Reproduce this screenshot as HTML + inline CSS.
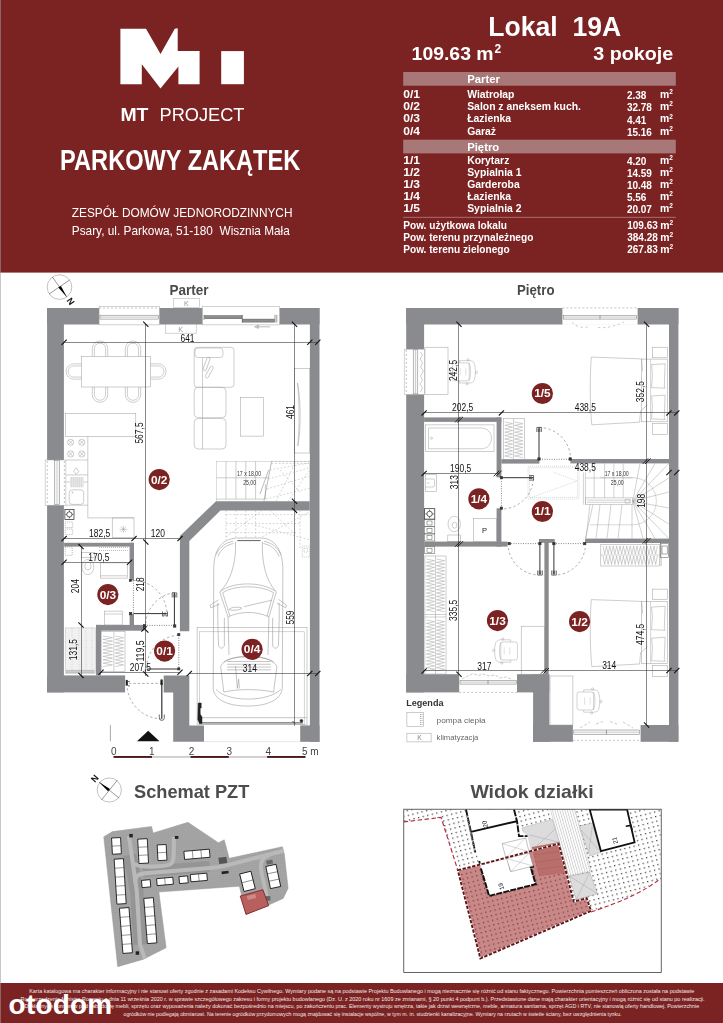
<!DOCTYPE html>
<html><head><meta charset="utf-8"><title>Lokal 19A</title>
<style>html,body{margin:0;padding:0;background:#fff}svg{display:block;opacity:0.999}text{font-family:"Liberation Sans",sans-serif}</style>
</head><body>
<svg width="723" height="1023" viewBox="0 0 723 1023" font-family="Liberation Sans, sans-serif">
<!-- header -->
<rect x="0" y="0" width="723" height="272.6" fill="#7b2323"/>
<g fill="#fff">
<polygon points="120.4,28.7 146,28.7 160.5,54.1 174.8,28.7 177.7,28.2 177.7,51.1 199.6,51.1 199.6,84.2 178.4,84.2 178.4,66.5 160.5,88.4 141.8,64.3 141.8,84.2 120.4,84.2"/>
<rect x="221.2" y="51.1" width="22.7" height="33.1"/>
<text x="120.4" y="120.8" font-size="19" font-weight="bold" textLength="28" lengthAdjust="spacingAndGlyphs">MT</text>
<text x="159.5" y="120.8" font-size="19" textLength="85" lengthAdjust="spacingAndGlyphs">PROJECT</text>
<text x="60.1" y="169.9" font-size="28.6" font-weight="bold" textLength="240.2" lengthAdjust="spacingAndGlyphs">PARKOWY ZAKĄTEK</text>
<text x="71.8" y="217.2" font-size="12.4" textLength="220.7" lengthAdjust="spacingAndGlyphs">ZESPÓŁ DOMÓW JEDNORODZINNYCH</text>
<text x="71.8" y="235.3" font-size="12.4" textLength="218" lengthAdjust="spacingAndGlyphs" xml:space="preserve">Psary, ul. Parkowa, 51-180  Wisznia Mała</text>
</g>

<!-- info table -->
<g fill="#fff" font-weight="bold">
<text x="488.3" y="35.5" font-size="27.2" textLength="132.8" lengthAdjust="spacingAndGlyphs" xml:space="preserve">Lokal  19A</text>
<text x="411.6" y="60" font-size="18" textLength="82" lengthAdjust="spacingAndGlyphs">109.63 m</text>
<text x="494.4" y="53.2" font-size="12">2</text>
<text x="593.3" y="60" font-size="18" textLength="80" lengthAdjust="spacingAndGlyphs">3 pokoje</text>
<rect x="403.2" y="72" width="272.6" height="13.7" fill="#a87878"/>
<rect x="403.2" y="139.7" width="272.6" height="13.7" fill="#a87878"/>
<text x="467.2" y="82.9" font-size="11.3">Parter</text>
<text x="467.2" y="150.8" font-size="11.3">Piętro</text>
<text x="403.2" y="97.9" font-size="10.4" textLength="16.8" lengthAdjust="spacingAndGlyphs">0/1</text><text x="467.2" y="97.9" font-size="10.4">Wiatrołap</text><text x="626.9" y="99.1" font-size="10">2.38</text><text x="660" y="97.9" font-size="10.4">m</text><text x="669.2" y="94.1" font-size="6.5">2</text>
<text x="403.2" y="110.1" font-size="10.4" textLength="16.8" lengthAdjust="spacingAndGlyphs">0/2</text><text x="467.2" y="110.1" font-size="10.4">Salon z aneksem kuch.</text><text x="626.9" y="111.3" font-size="10">32.78</text><text x="660" y="110.1" font-size="10.4">m</text><text x="669.2" y="106.3" font-size="6.5">2</text>
<text x="403.2" y="122.3" font-size="10.4" textLength="16.8" lengthAdjust="spacingAndGlyphs">0/3</text><text x="467.2" y="122.3" font-size="10.4">Łazienka</text><text x="626.9" y="123.5" font-size="10">4.41</text><text x="660" y="122.3" font-size="10.4">m</text><text x="669.2" y="118.5" font-size="6.5">2</text>
<text x="403.2" y="134.5" font-size="10.4" textLength="16.8" lengthAdjust="spacingAndGlyphs">0/4</text><text x="467.2" y="134.5" font-size="10.4">Garaż</text><text x="626.9" y="135.7" font-size="10">15.16</text><text x="660" y="134.5" font-size="10.4">m</text><text x="669.2" y="130.7" font-size="6.5">2</text>
<text x="403.2" y="163.5" font-size="10.4" textLength="16.8" lengthAdjust="spacingAndGlyphs">1/1</text><text x="467.2" y="163.5" font-size="10.4">Korytarz</text><text x="626.9" y="164.7" font-size="10">4.20</text><text x="660" y="163.5" font-size="10.4">m</text><text x="669.2" y="159.7" font-size="6.5">2</text>
<text x="403.2" y="175.5" font-size="10.4" textLength="16.8" lengthAdjust="spacingAndGlyphs">1/2</text><text x="467.2" y="175.5" font-size="10.4">Sypialnia 1</text><text x="626.9" y="176.7" font-size="10">14.59</text><text x="660" y="175.5" font-size="10.4">m</text><text x="669.2" y="171.7" font-size="6.5">2</text>
<text x="403.2" y="187.5" font-size="10.4" textLength="16.8" lengthAdjust="spacingAndGlyphs">1/3</text><text x="467.2" y="187.5" font-size="10.4">Garderoba</text><text x="626.9" y="188.7" font-size="10">10.48</text><text x="660" y="187.5" font-size="10.4">m</text><text x="669.2" y="183.7" font-size="6.5">2</text>
<text x="403.2" y="199.5" font-size="10.4" textLength="16.8" lengthAdjust="spacingAndGlyphs">1/4</text><text x="467.2" y="199.5" font-size="10.4">Łazienka</text><text x="626.9" y="200.7" font-size="10">5.56</text><text x="660" y="199.5" font-size="10.4">m</text><text x="669.2" y="195.7" font-size="6.5">2</text>
<text x="403.2" y="211.5" font-size="10.4" textLength="16.8" lengthAdjust="spacingAndGlyphs">1/5</text><text x="467.2" y="211.5" font-size="10.4">Sypialnia 2</text><text x="626.9" y="212.7" font-size="10">20.07</text><text x="660" y="211.5" font-size="10.4">m</text><text x="669.2" y="207.7" font-size="6.5">2</text>
<rect x="403.2" y="216.9" width="272.6" height="0.6" fill="#c9a0a0"/>
<text x="403.2" y="228.7" font-size="10.15">Pow. użytkowa lokalu</text><text x="627.2" y="229.3" font-size="10.4" textLength="30.6" lengthAdjust="spacingAndGlyphs">109.63</text><text x="660.2" y="228.7" font-size="10.4">m</text><text x="669.4" y="224.9" font-size="6.5">2</text>
<text x="403.2" y="240.8" font-size="10.15">Pow. terenu przynależnego</text><text x="627.2" y="241.4" font-size="10.4" textLength="30.6" lengthAdjust="spacingAndGlyphs">384.28</text><text x="660.2" y="240.8" font-size="10.4">m</text><text x="669.4" y="237.0" font-size="6.5">2</text>
<text x="403.2" y="252.6" font-size="10.15">Pow. terenu zielonego</text><text x="627.2" y="253.2" font-size="10.4" textLength="30.6" lengthAdjust="spacingAndGlyphs">267.83</text><text x="660.2" y="252.6" font-size="10.4">m</text><text x="669.4" y="248.8" font-size="6.5">2</text>
</g>

<!-- PARTER walls -->
<g fill="#8a8b8e">
<rect x="47.1" y="308" width="16.8" height="384.4"/>
<rect x="47.1" y="308" width="272.4" height="16.5"/>
<rect x="309.9" y="308" width="9.6" height="433.8"/>
<rect x="47.1" y="675.4" width="78" height="17"/>
<polygon points="216,501.2 309.8,501.2 309.8,510.4 220.5,510.4 189.3,541 189.3,631.2 179.9,631.2 179.9,536.1"/>
<polygon points="163.7,675.4 189.3,675.4 189.3,725.4 204,725.4 204,741.8 173.2,741.8 173.2,692.4 163.7,692.4"/>
<rect x="300.2" y="725.4" width="19.3" height="16.4"/>
<rect x="64.1" y="542.8" width="69.9" height="3.8"/>
<rect x="129.6" y="542.8" width="4.4" height="37.7"/><rect x="129.6" y="613.9" width="4.4" height="15"/>
<rect x="96" y="624.9" width="48.5" height="5.8"/>
<rect x="96" y="624.9" width="5" height="50.5"/>
</g>
<!-- windows -->
<g fill="#fff" stroke="#a8a8a8" stroke-width="0.5">
<rect x="99.1" y="306.3" width="60.3" height="18.6"/>
<path d="M99.1,308 H159.4" fill="none" stroke-dasharray="2,2" stroke="#b5b5b5" stroke-width="0.8"/>
<rect x="100" y="315.2" width="58.5" height="3.9" fill="#f6f6f6" stroke="#777"/>
<line x1="100" y1="317.1" x2="158.5" y2="317.1" stroke="#aaa"/>
<rect x="202.4" y="306.3" width="77.2" height="18.6"/>
<rect x="204.8" y="315.7" width="37.2" height="3" fill="#8e8e8e" stroke="#555" stroke-width="0.5"/>
<rect x="242.6" y="319.1" width="31.6" height="3" fill="#8e8e8e" stroke="#555" stroke-width="0.5"/>
<path d="M204,314.8 V320 M242.3,314.8 V322.6 M275,314.8 V322.6 M276.8,314.8 V322.6" stroke="#555" stroke-width="0.6" fill="none"/>
<rect x="45.1" y="460" width="20.8" height="45.2"/>
<path d="M47.2,461 V505 M64.4,461 V505" fill="none" stroke-dasharray="2,2" stroke="#b5b5b5" stroke-width="0.8"/>
<rect x="54.3" y="460.6" width="5.4" height="44" fill="#f6f6f6" stroke="#777"/>
<line x1="57" y1="460.6" x2="57" y2="504.6" stroke="#aaa"/>
</g>

<!-- PARTER detail -->
<text x="169.4" y="294.9" font-size="14" font-weight="bold" fill="#4a4a4a" textLength="39" lengthAdjust="spacingAndGlyphs">Parter</text>
<g><circle cx="59.5" cy="287.1" r="12.3" fill="none" stroke="#999" stroke-width="0.6"/><line x1="52.4" y1="277" x2="66.6" y2="296.9" stroke="#333" stroke-width="0.5"/><line x1="49.1" y1="294" x2="69.5" y2="280.1" stroke="#333" stroke-width="0.5"/><polygon points="58.3,287.6 60.9,286 66.9,297.1" fill="#000"/><text transform="translate(70,301.8) rotate(54.5)" font-size="9" font-weight="bold" fill="#111" text-anchor="middle" dominant-baseline="middle">N</text></g>
<path d="M270.1,326.8 H256.5 M258.2,325.2 L254.7,326.8 L258.2,328.4 Z" fill="none" stroke="#777" stroke-width="0.5"/>
<g fill="#fff" stroke="#aaa" stroke-width="0.5"><rect x="173.5" y="298.3" width="26" height="9.4"/><rect x="165.5" y="324.4" width="30.7" height="8.8"/></g>
<g font-size="7.2" fill="#999" text-anchor="middle"><text x="186.5" y="305.8">K</text><text x="180.7" y="331.6">K</text></g>
<g fill="none" stroke="#9c9c9c" stroke-width="0.5">
<rect x="81.5" y="356.4" width="69.2" height="30.6"/>
<g transform="translate(100,348.7) rotate(0)"><path d="M-7.7,7.7 V0 A7.7,7.7 0 0 1 7.7,0 V7.7" /><path d="M-5.6,7.7 V0 A5.6,5.6 0 0 1 5.6,0 V7.7" /></g><g transform="translate(133,348.7) rotate(0)"><path d="M-7.7,7.7 V0 A7.7,7.7 0 0 1 7.7,0 V7.7" /><path d="M-5.6,7.7 V0 A5.6,5.6 0 0 1 5.6,0 V7.7" /></g><g transform="translate(100,394.7) rotate(180)"><path d="M-7.7,7.7 V0 A7.7,7.7 0 0 1 7.7,0 V7.7" /><path d="M-5.6,7.7 V0 A5.6,5.6 0 0 1 5.6,0 V7.7" /></g><g transform="translate(133,394.7) rotate(180)"><path d="M-7.7,7.7 V0 A7.7,7.7 0 0 1 7.7,0 V7.7" /><path d="M-5.6,7.7 V0 A5.6,5.6 0 0 1 5.6,0 V7.7" /></g><g transform="translate(73.8,371.5) rotate(-90)"><path d="M-7.7,7.7 V0 A7.7,7.7 0 0 1 7.7,0 V7.7" /><path d="M-5.6,7.7 V0 A5.6,5.6 0 0 1 5.6,0 V7.7" /></g><g transform="translate(158.4,371.5) rotate(90)"><path d="M-7.7,7.7 V0 A7.7,7.7 0 0 1 7.7,0 V7.7" /><path d="M-5.6,7.7 V0 A5.6,5.6 0 0 1 5.6,0 V7.7" /></g>
<rect x="194.2" y="347.3" width="39.8" height="40" rx="3"/><rect x="195" y="348" width="28" height="9.5" rx="3"/><rect x="194.2" y="387.3" width="31.8" height="30.4" rx="4"/><rect x="194.2" y="418.5" width="31.8" height="30.5" rx="4"/><line x1="202.5" y1="357.5" x2="202.5" y2="449"/><rect x="-1.6" y="-7" width="3.2" height="14" rx="1.6" transform="translate(206.6,364) rotate(20)"/><rect x="-1.6" y="-6.5" width="3.2" height="13" rx="1.6" transform="translate(209.3,372) rotate(28)"/>
<rect x="240.5" y="397.5" width="22.9" height="38.6"/>
<rect x="294.5" y="368.4" width="15.3" height="84.6"/><path d="M297.5,383 C301,400 301,430 297.8,446 C299.5,430 299.5,400 297.5,383 Z"/>
<rect x="65.6" y="413.6" width="70.2" height="22.9"/><path d="M87.8,436.5 V517.9 H134"/><rect x="112.2" y="517.9" width="21.8" height="19.4"/><path d="M65.9,460 H87.8 M65.9,474.9 H87.8 M65.9,482 H87.8 M65.9,505.2 H87.8"/><circle cx="70.6" cy="442.3" r="3.1"/><path d="M68.39999999999999,440.1 l4.4,4.4 M68.39999999999999,444.5 l4.4,-4.4"/><circle cx="70.6" cy="454" r="3.1"/><path d="M68.39999999999999,451.8 l4.4,4.4 M68.39999999999999,456.2 l4.4,-4.4"/><circle cx="81.8" cy="442.3" r="3.1"/><path d="M79.6,440.1 l4.4,4.4 M79.6,444.5 l4.4,-4.4"/><circle cx="81.8" cy="454" r="3.1"/><path d="M79.6,451.8 l4.4,4.4 M79.6,456.2 l4.4,-4.4"/><rect x="70" y="477" width="13.7" height="10.3" fill="#e6e6e6" stroke="none"/><path d="M71.5,477 V487.3 M73.5,477 V487.3 M75.5,477 V487.3 M77.5,477 V487.3 M79.5,477 V487.3 M81.5,477 V487.3" stroke="#d0d0d0"/><rect x="69.2" y="489.8" width="14.5" height="14.6" rx="3"/><circle cx="72.5" cy="492.5" r="0.6"/><path d="M76.2,467.8 l2.6,3.4 l-2.6,3.2 l-2.6,-3.2 z"/><path d="M123.4,525.5 v7.6 M119.6,529.3 h7.6 M120.7,526.6 l5.4,5.4 M120.7,532 l5.4,-5.4"/>
<rect x="216.4" y="461.4" width="93.4" height="39.9" stroke="#aaa" stroke-width="0.4"/><line x1="226" y1="461.4" x2="226" y2="499.1"/><line x1="235.9" y1="461.4" x2="235.9" y2="499.1"/><line x1="245.8" y1="461.4" x2="245.8" y2="499.1"/><line x1="255.6" y1="461.4" x2="255.6" y2="499.1"/><line x1="265.4" y1="484" x2="265.4" y2="499.1"/><line x1="216.4" y1="477.8" x2="268.6" y2="477.8"/><line x1="216.4" y1="499.1" x2="264.4" y2="499.1"/><path d="M271.6,461.4 L264,500.8 M268.6,470 L260,494" stroke="#777"/><g stroke-dasharray="1.8,1.8" stroke="#aaa"><path d="M271.6,461.4 H309.8 M271.6,463.5 H309.8 M270,470 L309,463 M268.5,479 L309,468 M267,489 L309.8,476 M266,499 L309.8,488 M276,501.3 L296,461.5 M288,501.3 L309.8,470 M280,470 L300,492"/><path d="M226,514.6 H309.8 M226,523.5 H300 M226,532.6 H296 M226,510.4 V540 M235.9,510.4 V537 M245.8,510.4 V537 M255.6,510.4 V537 M226,537 L262,510.4 M262,537 L309.8,512 M255,525 L309.8,540 M300,510.4 V548 M270,510.4 L296,535"/></g>
<g stroke-dasharray="1,1" stroke="#999"><rect x="302.3" y="546" width="7" height="11"/><rect x="304" y="548" width="3.5" height="4"/></g>
<rect x="197.1" y="627.7" width="109.9" height="96.8" stroke="#999"/><rect x="199.7" y="631.8" width="104.5" height="92.7" stroke="#aaa"/><path d="M199.7,717.7 H307" stroke="#888"/><path d="M199.7,722.9 H303" stroke="#333" stroke-width="0.9"/><path d="M204,741.6 H300.6" stroke="#ccc"/><path d="M198.2,703 h3 v5 h-1 v6 l1.8,3 v6.5 h-2.6 l-1.6,-4 z" fill="#222" stroke="#222"/><circle cx="301.4" cy="720.8" r="1.4" fill="#222" stroke="#222"/><path d="M292.5,721 l2.5,2.5" stroke="#222" stroke-width="0.8"/>
<g transform="translate(190,525) scale(0.1857)" stroke-width="2.7" stroke="#8a8a8a"><path d="M250,70 C180,75 130,120 128,230 L125,880 C130,940 200,975 310,975 C420,975 490,940 497,880 L500,230 C495,120 450,75 385,70 Z"/><path d="M245,90 C250,200 220,300 165,355 M390,90 C385,200 410,300 460,355"/><path d="M140,160 C160,115 200,92 232,88 M490,160 C470,115 430,92 398,88 M150,170 C165,130 200,105 235,100 M480,170 C465,130 430,105 395,100"/><path d="M255,84 H380" stroke="#555" stroke-width="5"/><path d="M160,360 C230,303 390,303 465,360 M176,364 C240,322 380,322 450,364"/><path d="M205,495 C270,463 360,463 425,495 M160,360 L205,495 M465,360 L425,495 M176,364 L215,490 M450,364 L415,490"/><path d="M152,405 L108,432 L112,446 L160,425 M476,400 L520,432 L515,446 L468,420"/><path d="M205,495 L210,700 M425,495 L420,700 M185,500 V650 M445,500 V650"/><path d="M150,420 C148,500 152,600 154,650 C160,668 178,668 185,650 M480,420 C482,500 478,600 476,650 C470,668 452,668 445,650"/><path d="M210,455 C220,440 270,440 280,448 C270,460 220,462 210,455 Z M290,440 L440,405"/><path d="M165,760 C200,688 430,688 468,760 M180,740 C220,700 410,700 452,740 M165,760 L182,900 M468,760 L450,900 M182,900 C250,882 380,882 450,900 M140,885 C200,955 420,955 490,885"/><path d="M200,735 H435 M200,750 H435 M200,765 H435 M200,780 H435 M245,760 L255,880 L262,830 L266,880" /></g>
<rect x="81.4" y="552.6" width="13" height="5" /><ellipse cx="87.9" cy="567" rx="6" ry="7.6"/><ellipse cx="87.9" cy="566" rx="3.2" ry="4"/><rect x="100.5" y="562.9" width="26.7" height="15.2"/><line x1="100.5" y1="575.8" x2="127.2" y2="575.8"/><path d="M99,547.5 H127.8 M99,550.5 H127.8" stroke-dasharray="1,1" stroke="#777"/><rect x="65.2" y="547" width="7" height="8.4" stroke-dasharray="1,1" stroke="#777"/><rect x="104.6" y="611.1" width="17.6" height="13.9"/><line x1="104.6" y1="614" x2="122.2" y2="614"/><rect x="65.2" y="627.9" width="30.1" height="45.4" fill="#f1f1f1" stroke="#bbb"/><path d="M72,628 V673 M79,628 V673 M86,628 V673 M92,628 V673" stroke-dasharray="0.8,1.6" stroke="#aaa"/><rect x="66.5" y="670.2" width="27.6" height="2.6" fill="#ccc" stroke="#aaa"/><rect x="101.2" y="631.6" width="23.8" height="39.9"/><line x1="113.9" y1="631.6" x2="113.9" y2="671.5"/><path d="M103.0,636.0 L112.5,637.7 L103.0,639.4 L112.5,641.1 L103.0,642.8 L112.5,644.5 L103.0,646.2 L112.5,647.9 L103.0,649.6 L112.5,651.3 L103.0,653.0 L112.5,654.7 L103.0,656.4 L112.5,658.1 L103.0,659.8 L112.5,661.5 L103.0,663.2 L112.5,664.9 L103.0,666.6" stroke="#999" stroke-width="0.45"/><path d="M115.3,636.0 L123.5,637.7 L115.3,639.4 L123.5,641.1 L115.3,642.8 L123.5,644.5 L115.3,646.2 L123.5,647.9 L115.3,649.6 L123.5,651.3 L115.3,653.0 L123.5,654.7 L115.3,656.4 L123.5,658.1 L115.3,659.8 L123.5,661.5 L115.3,663.2 L123.5,664.9 L115.3,666.6" stroke="#999" stroke-width="0.45"/></g>
<g fill="none" stroke="#222" stroke-width="0.7"><rect x="64.9" y="509.5" width="9.1" height="9.9"/><circle cx="69.4" cy="514.4" r="2.6"/><path d="M69.4,510.3 v1.5 M69.4,517 v1.5 M65.6,514.4 h1.2 M72,514.4 h1.2"/></g><g fill="none" stroke="#777" stroke-width="0.5" stroke-dasharray="1,1"><rect x="65.2" y="522" width="7.5" height="5.5"/><rect x="65.2" y="529" width="7.5" height="5.5"/></g>
<g fill="none" stroke="#333" stroke-width="0.6"><line x1="133.4" y1="613.6" x2="166.8" y2="613.6" stroke-width="1"/><path d="M133.4,580.5 V613.9" stroke-dasharray="1,1.4"/><path d="M133.4,580.5 A33.4,33.4 0 0 1 166.8,613.9" stroke-dasharray="2.4,2.4" stroke="#777"/><path d="M162.5,611.5 v4.6 h1.6 v-3 h1.8 v3 h1.6 v-4.6" stroke-width="0.7"/><line x1="174.4" y1="592.6" x2="174.4" y2="626" stroke-width="1"/><path d="M147,625.4 H174" stroke-dasharray="1,1.4"/><path d="M174.4,592.6 A33.4,33.4 0 0 0 145.6,625.4" stroke-dasharray="2.4,2.4" stroke="#777"/><path d="M172.2,597.5 v-4.6 h4.6 v4.6 M173.8,597.5 v-3 h1.4 v3" stroke-width="0.7"/><line x1="147.3" y1="669" x2="178.8" y2="669" stroke-width="1"/><path d="M178.8,635.3 V669" stroke-dasharray="1,1.4"/><path d="M178.8,635.3 A33.4,33.4 0 0 0 146.5,669" stroke-dasharray="2.4,2.4" stroke="#777"/><line x1="161.8" y1="683" x2="161.8" y2="718.8" stroke-width="1.2"/><path d="M129,683.4 H161" stroke-dasharray="2.4,2" stroke="#777"/><path d="M127,683.4 A34.8,34.8 0 0 0 161.8,718.8" stroke-dasharray="2.4,2.4" stroke="#777"/><path d="M159.3,714.5 v3.4 a2.5,2.5 0 0 0 5,0 v-3.4" stroke-width="0.7"/><rect x="126" y="680.2" width="1.6" height="5" fill="#111"/><rect x="160.8" y="679.8" width="1.6" height="5" fill="#111"/><path d="M130,681.5 a2.3,2.3 0 1 0 0,4.4" stroke-width="0.7"/><rect x="129.4" y="579.5" width="2" height="2" fill="#333"/><rect x="129.4" y="612.4" width="2.4" height="2.4" fill="#333"/><rect x="143.4" y="624.6" width="2.4" height="2.4" fill="#333"/><rect x="173.5" y="624.8" width="2.4" height="2.4" fill="#333"/><rect x="177.7" y="633.5" width="2.2" height="2.2" fill="#333"/><rect x="177.7" y="667.8" width="2.2" height="2.2" fill="#333"/></g>
<g stroke="#3a3a3a" stroke-width="0.6" fill="none"><line x1="64.1" y1="342.5" x2="318" y2="342.5"/><line x1="145.5" y1="324.3" x2="145.5" y2="676"/><line x1="294.5" y1="324.3" x2="294.5" y2="725.8"/><line x1="64.1" y1="538.5" x2="180" y2="538.5"/><line x1="64.1" y1="562.5" x2="129.6" y2="562.5"/><line x1="81.5" y1="546.6" x2="81.5" y2="675.4"/><line x1="101" y1="672.5" x2="180" y2="672.5"/><line x1="189.3" y1="673.5" x2="318" y2="673.5"/></g>
<line x1="61.5" y1="344.9" x2="66.7" y2="339.7" stroke="#111" stroke-width="1.1"/><line x1="307.2" y1="344.9" x2="312.4" y2="339.7" stroke="#111" stroke-width="1.1"/><line x1="315.2" y1="344.9" x2="320.4" y2="339.7" stroke="#111" stroke-width="1.1"/><line x1="61.5" y1="541.2" x2="66.7" y2="536.0" stroke="#111" stroke-width="1.1"/><line x1="131.4" y1="541.2" x2="136.6" y2="536.0" stroke="#111" stroke-width="1.1"/><line x1="177.4" y1="541.2" x2="182.6" y2="536.0" stroke="#111" stroke-width="1.1"/><line x1="61.5" y1="564.8" x2="66.7" y2="559.6" stroke="#111" stroke-width="1.1"/><line x1="127.0" y1="564.8" x2="132.2" y2="559.6" stroke="#111" stroke-width="1.1"/><line x1="98.4" y1="674.8" x2="103.6" y2="669.6" stroke="#111" stroke-width="1.1"/><line x1="177.4" y1="674.8" x2="182.6" y2="669.6" stroke="#111" stroke-width="1.1"/><line x1="186.7" y1="676.1" x2="191.9" y2="670.9" stroke="#111" stroke-width="1.1"/><line x1="307.2" y1="676.1" x2="312.4" y2="670.9" stroke="#111" stroke-width="1.1"/><line x1="315.2" y1="676.1" x2="320.4" y2="670.9" stroke="#111" stroke-width="1.1"/><line x1="143.2" y1="321.7" x2="148.4" y2="326.9" stroke="#111" stroke-width="1.1"/><line x1="143.2" y1="539.4" x2="148.4" y2="544.6" stroke="#111" stroke-width="1.1"/><line x1="143.2" y1="627.4" x2="148.4" y2="632.6" stroke="#111" stroke-width="1.1"/><line x1="143.2" y1="671.4" x2="148.4" y2="676.6" stroke="#111" stroke-width="1.1"/><line x1="291.9" y1="321.7" x2="297.1" y2="326.9" stroke="#111" stroke-width="1.1"/><line x1="291.9" y1="498.6" x2="297.1" y2="503.8" stroke="#111" stroke-width="1.1"/><line x1="291.9" y1="507.8" x2="297.1" y2="513.0" stroke="#111" stroke-width="1.1"/><line x1="78.4" y1="544.0" x2="83.6" y2="549.2" stroke="#111" stroke-width="1.1"/><line x1="78.4" y1="622.4" x2="83.6" y2="627.6" stroke="#111" stroke-width="1.1"/><line x1="78.4" y1="672.8" x2="83.6" y2="678.0" stroke="#111" stroke-width="1.1"/><line x1="141.4" y1="631.6" x2="146.6" y2="626.4" stroke="#111" stroke-width="1.1"/>
<text x="187.5" y="341.8" font-size="10.4" text-anchor="middle" fill="#111" textLength="14.1" lengthAdjust="spacingAndGlyphs">641</text><text x="99.6" y="536.6" font-size="10.4" text-anchor="middle" fill="#111" textLength="21.2" lengthAdjust="spacingAndGlyphs">182,5</text><text x="157.8" y="536.8" font-size="10.4" text-anchor="middle" fill="#111" textLength="14.1" lengthAdjust="spacingAndGlyphs">120</text><text x="98.8" y="560.6" font-size="10.4" text-anchor="middle" fill="#111" textLength="21.2" lengthAdjust="spacingAndGlyphs">170,5</text><text x="140.4" y="670.8" font-size="10.4" text-anchor="middle" fill="#111" textLength="21.2" lengthAdjust="spacingAndGlyphs">207,5</text><text x="249.8" y="671.8" font-size="10.4" text-anchor="middle" fill="#111" textLength="14.1" lengthAdjust="spacingAndGlyphs">314</text><text transform="translate(143,433) rotate(-90)" font-size="10.4" text-anchor="middle" fill="#111" textLength="21.2" lengthAdjust="spacingAndGlyphs">567,5</text><text transform="translate(294.1,412) rotate(-90)" font-size="10.4" text-anchor="middle" fill="#111" textLength="14.1" lengthAdjust="spacingAndGlyphs">461</text><text transform="translate(293.8,617.5) rotate(-90)" font-size="10.4" text-anchor="middle" fill="#111" textLength="14.1" lengthAdjust="spacingAndGlyphs">559</text><text transform="translate(78.6,586.2) rotate(-90)" font-size="10.4" text-anchor="middle" fill="#111" textLength="14.1" lengthAdjust="spacingAndGlyphs">204</text><text transform="translate(144.2,584.3) rotate(-90)" font-size="10.4" text-anchor="middle" fill="#111" textLength="14.1" lengthAdjust="spacingAndGlyphs">218</text><text transform="translate(77.3,649.6) rotate(-90)" font-size="10.4" text-anchor="middle" fill="#111" textLength="21.2" lengthAdjust="spacingAndGlyphs">131,5</text><text transform="translate(143.8,651) rotate(-90)" font-size="10.4" text-anchor="middle" fill="#111" textLength="21.2" lengthAdjust="spacingAndGlyphs">119,5</text>
<g font-size="7" fill="#333" text-anchor="middle"><text x="249" y="476" textLength="24" lengthAdjust="spacingAndGlyphs">17 x 18,00</text><text x="249.6" y="485.4" textLength="12.8" lengthAdjust="spacingAndGlyphs">25,00</text></g>
<circle cx="159.2" cy="479.6" r="10.6" fill="#7b2323"/><text x="159.2" y="483.5" font-size="11" font-weight="bold" fill="#fff" text-anchor="middle" textLength="16.5" lengthAdjust="spacingAndGlyphs">0/2</text><circle cx="107.9" cy="594.6" r="10.6" fill="#7b2323"/><text x="107.9" y="598.5" font-size="11" font-weight="bold" fill="#fff" text-anchor="middle" textLength="16.5" lengthAdjust="spacingAndGlyphs">0/3</text><circle cx="164.6" cy="651.1" r="10.6" fill="#7b2323"/><text x="164.6" y="655.0" font-size="11" font-weight="bold" fill="#fff" text-anchor="middle" textLength="16.5" lengthAdjust="spacingAndGlyphs">0/1</text><circle cx="252.1" cy="649.3" r="10.6" fill="#7b2323"/><text x="252.1" y="653.1999999999999" font-size="11" font-weight="bold" fill="#fff" text-anchor="middle" textLength="16.5" lengthAdjust="spacingAndGlyphs">0/4</text>
<polygon points="137,741.2 159.5,741.2 148.2,730.7" fill="#111"/><line x1="110.4" y1="725" x2="110.4" y2="741.2" stroke="#555" stroke-width="0.5"/>
<g font-size="10" fill="#444" text-anchor="middle"><text x="113.9" y="754.6">0</text><text x="151.8" y="754.6">1</text><text x="191.6" y="754.6">2</text><text x="229.4" y="754.6">3</text><text x="268.2" y="754.6">4</text><text x="310.3" y="754.6" textLength="16.5" lengthAdjust="spacing">5 m</text></g><g><rect x="113.5" y="756" width="38.6" height="1.9" fill="#4a1718"/><rect x="152.1" y="756" width="38.4" height="1.9" fill="#cfcfcf"/><rect x="190.5" y="756" width="38.4" height="1.9" fill="#4a1718"/><rect x="228.9" y="756" width="38.2" height="1.9" fill="#cfcfcf"/><rect x="267.1" y="756" width="38.4" height="1.9" fill="#4a1718"/></g>

<!-- PIETRO walls -->
<g fill="#8a8b8e">
<rect x="406.2" y="308" width="17.9" height="384.4"/>
<rect x="406.2" y="308" width="272.2" height="16.5"/>
<rect x="669" y="308" width="9.4" height="433.8"/>
<rect x="406.2" y="674.2" width="143.1" height="18.2"/>
<rect x="533.1" y="674.2" width="16.2" height="67.6"/>
<rect x="533.1" y="725" width="145.3" height="16.8"/>
<rect x="424.1" y="417.4" width="77.3" height="4.5"/>
<rect x="496.6" y="417.4" width="4.8" height="60"/>
<rect x="496.6" y="508.3" width="4.8" height="38.3"/>
<rect x="501.4" y="459.2" width="38" height="4.4"/>
<rect x="424.1" y="541.6" width="83.4" height="5"/>
<rect x="570.4" y="459" width="98.8" height="4.4"/>
<rect x="585.1" y="538.6" width="84" height="4.4"/>
<rect x="544.4" y="539" width="4.3" height="135.2"/>
<rect x="539" y="539" width="15.7" height="3.8"/>
</g>
<!-- windows -->
<g fill="#fff" stroke="#a8a8a8" stroke-width="0.5">
<rect x="562.4" y="306.3" width="75.2" height="18.6" stroke="none"/>
<path d="M562.4,307.9 H637.6" fill="none" stroke-dasharray="2,2" stroke="#b5b5b5" stroke-width="0.8"/>
<rect x="563.3" y="315.4" width="73.4" height="3.7" fill="#f6f6f6" stroke="#777"/>
<line x1="563.3" y1="317.2" x2="636.7" y2="317.2" stroke="#aaa"/><line x1="600" y1="315.4" x2="600" y2="319.1" stroke="#555"/>
<path d="M572,322 C576,327 583,328.5 590,326.5 M598,327.5 C606,328.5 616,326 624,322" fill="none" stroke-dasharray="2.5,2.5" stroke="#999"/>
<rect x="404.2" y="349.2" width="20.6" height="45.3"/>
<path d="M406.3,350 V394" fill="none" stroke-dasharray="2,2" stroke="#b5b5b5" stroke-width="0.8"/>
<rect x="413.2" y="349.8" width="4.6" height="44.1" fill="#f6f6f6" stroke="#777"/>
<line x1="415.5" y1="349.8" x2="415.5" y2="393.9" stroke="#aaa"/>
<path d="M420.5,352 l2,3 -2.5,4 2.5,4 -2,4 3,4 -3,5 2,4 -2.5,4 2.5,4 -2,4" fill="none" stroke="#999"/>
<rect x="459.2" y="671.7" width="57.8" height="22.4" stroke="none"/>
<path d="M459.2,692.4 H517" fill="none" stroke-dasharray="2,2" stroke="#b5b5b5" stroke-width="0.8"/>
<rect x="460" y="680.3" width="56.2" height="3.8" fill="#f6f6f6" stroke="#777"/><line x1="460" y1="682.2" x2="516.2" y2="682.2" stroke="#aaa"/><line x1="488" y1="680.3" x2="488" y2="684.1" stroke="#555"/>
<path d="M462,679 l5,-2.5 6,-3 5,2 5,-1.5 6,2 6,-1 5,3 6,-1 6,2.5" fill="none" stroke="#999" stroke-dasharray="3,1.5"/>
<rect x="572.9" y="724" width="67.7" height="18" stroke="none"/>
<path d="M572.9,740.3 H640.6" fill="none" stroke-dasharray="2,2" stroke="#b5b5b5" stroke-width="0.8"/>
<rect x="573.8" y="730" width="65.9" height="4.4" fill="#f6f6f6" stroke="#777"/><line x1="573.8" y1="732.2" x2="639.7" y2="732.2" stroke="#aaa"/><line x1="606.5" y1="730" x2="606.5" y2="734.4" stroke="#555"/>
<path d="M580,728 L590,722 M596,724 L603,721.5 M610,721.5 L617,724 M623,722 L633,728" fill="none" stroke="#999" stroke-dasharray="3,2"/>
</g>

<!-- PIETRO detail -->
<text x="517" y="294.9" font-size="14" font-weight="bold" fill="#4a4a4a" textLength="37.5" lengthAdjust="spacingAndGlyphs">Piętro</text>
<g fill="none" stroke="#9c9c9c" stroke-width="0.5">
<rect x="424.9" y="347.2" width="23.1" height="47.3"/><g transform="translate(464.8,371.8) rotate(0)" stroke="#a6a6a6"><rect x="-12.2" y="-9" width="16.6" height="18" rx="2.2"/><path d="M-5.5,-9 V-11.2 H4.4 M-5.5,9 V11.2 H4.4"/><path d="M4.4,-11.2 C7.5,-11.2 9,-10 9.6,-8 C11,-3 11,3 9.6,8 C9,10 7.5,11.2 4.4,11.2"/><path d="M4.4,-9 C6.2,-4 6.2,4 4.4,9"/><path d="M-4.6,-3.6 V3.6 M1,-3.6 V3.6" stroke="#c0c0c0"/><circle cx="11.6" cy="0.6" r="1.15"/><circle cx="3.4" cy="-12" r="1.1"/><circle cx="2.4" cy="12" r="1.1"/></g>
<rect x="652.3" y="347.2" width="15.2" height="10.6"/><rect x="652.3" y="423.4" width="15.2" height="11.2"/><path d="M591.3,357.1 C589.8,377.41 589.8,404.49 591.8,424.8 L639.6,422.2 L640.6,410.8 L647.6,404.8 M591.3,357.1 L641.6,358.90000000000003 L642.6,371.1"/><rect x="641.6" y="359.1" width="25.899999999999977" height="62.69999999999999"/><path d="M651.6,364.6 l13.5,-0.8 l-0.8,22.349999999999994 l0.8,2 l-13.5,-0.6 l0.8,-12.7 Z"/><path d="M651.6,395.95000000000005 l13.5,-0.8 l-0.8,22.349999999999994 l0.8,2 l-13.5,-0.6 l0.8,-12.7 Z"/><path d="M650.6,359.1 V421.8" stroke="#aaa"/>
<rect x="425.6" y="424.9" width="68.4" height="26.8"/><path d="M428.5,428 H481 C495,428 495,448.8 481,448.8 H428.5 Z"/><circle cx="431.5" cy="438.3" r="1"/><rect x="425.6" y="474.6" width="11" height="17"/><path d="M425.6,479 h7.5 a1.5,1.5 0 0 1 1.5,1.5 v5 a1.5,1.5 0 0 1 -1.5,1.5 h-7.5"/><path d="M427,483 h2.5"/><rect x="447.5" y="541.3" width="13" height="0.3"/><ellipse cx="454.2" cy="524" rx="6.2" ry="7.8"/><ellipse cx="454.6" cy="525.2" rx="2.4" ry="3"/><rect x="447.8" y="535" width="12.8" height="6.3"/><rect x="473.4" y="518.7" width="23.1" height="22.6"/><rect x="503.3" y="418.6" width="21.1" height="41"/><line x1="513.6" y1="418.6" x2="513.6" y2="459.4"/><path d="M504.8,422.0 L512.6,423.7 L504.8,425.4 L512.6,427.1 L504.8,428.8 L512.6,430.5 L504.8,432.2 L512.6,433.9 L504.8,435.6 L512.6,437.3 L504.8,439.0 L512.6,440.7 L504.8,442.4 L512.6,444.1 L504.8,445.8 L512.6,447.5 L504.8,449.2 L512.6,450.9 L504.8,452.6 L512.6,454.3 L504.8,456.0 L512.6,457.7" stroke="#999" stroke-width="0.45"/><path d="M514.6,422.0 L522.8,423.7 L514.6,425.4 L522.8,427.1 L514.6,428.8 L522.8,430.5 L514.6,432.2 L522.8,433.9 L514.6,435.6 L522.8,437.3 L514.6,439.0 L522.8,440.7 L514.6,442.4 L522.8,444.1 L514.6,445.8 L522.8,447.5 L514.6,449.2 L522.8,450.9 L514.6,452.6 L522.8,454.3 L514.6,456.0 L522.8,457.7" stroke="#999" stroke-width="0.45"/><rect x="424.9" y="556" width="21.1" height="118"/><line x1="435.5" y1="556" x2="435.5" y2="674"/><line x1="424.9" y1="614.5" x2="446" y2="614.5"/><line x1="424.9" y1="617" x2="446" y2="617"/><path d="M426.4,559.0 L434.5,560.7 L426.4,562.4 L434.5,564.1 L426.4,565.8 L434.5,567.5 L426.4,569.2 L434.5,570.9 L426.4,572.6 L434.5,574.3 L426.4,576.0 L434.5,577.7 L426.4,579.4 L434.5,581.1 L426.4,582.8 L434.5,584.5 L426.4,586.2 L434.5,587.9 L426.4,589.6 L434.5,591.3 L426.4,593.0 L434.5,594.7 L426.4,596.4 L434.5,598.1 L426.4,599.8 L434.5,601.5 L426.4,603.2 L434.5,604.9 L426.4,606.6 L434.5,608.3 L426.4,610.0 L434.5,611.7" stroke="#999" stroke-width="0.45"/><path d="M436.5,559.0 L444.6,560.7 L436.5,562.4 L444.6,564.1 L436.5,565.8 L444.6,567.5 L436.5,569.2 L444.6,570.9 L436.5,572.6 L444.6,574.3 L436.5,576.0 L444.6,577.7 L436.5,579.4 L444.6,581.1 L436.5,582.8 L444.6,584.5 L436.5,586.2 L444.6,587.9 L436.5,589.6 L444.6,591.3 L436.5,593.0 L444.6,594.7 L436.5,596.4 L444.6,598.1 L436.5,599.8 L444.6,601.5 L436.5,603.2 L444.6,604.9 L436.5,606.6 L444.6,608.3 L436.5,610.0 L444.6,611.7" stroke="#999" stroke-width="0.45"/><path d="M426.4,620.0 L434.5,621.7 L426.4,623.4 L434.5,625.1 L426.4,626.8 L434.5,628.5 L426.4,630.2 L434.5,631.9 L426.4,633.6 L434.5,635.3 L426.4,637.0 L434.5,638.7 L426.4,640.4 L434.5,642.1 L426.4,643.8 L434.5,645.5 L426.4,647.2 L434.5,648.9 L426.4,650.6 L434.5,652.3 L426.4,654.0 L434.5,655.7 L426.4,657.4 L434.5,659.1 L426.4,660.8 L434.5,662.5 L426.4,664.2 L434.5,665.9 L426.4,667.6 L434.5,669.3 L426.4,671.0" stroke="#999" stroke-width="0.45"/><path d="M436.5,620.0 L444.6,621.7 L436.5,623.4 L444.6,625.1 L436.5,626.8 L444.6,628.5 L436.5,630.2 L444.6,631.9 L436.5,633.6 L444.6,635.3 L436.5,637.0 L444.6,638.7 L436.5,640.4 L444.6,642.1 L436.5,643.8 L444.6,645.5 L436.5,647.2 L444.6,648.9 L436.5,650.6 L444.6,652.3 L436.5,654.0 L444.6,655.7 L436.5,657.4 L444.6,659.1 L436.5,660.8 L444.6,662.5 L436.5,664.2 L444.6,665.9 L436.5,667.6 L444.6,669.3 L436.5,671.0" stroke="#999" stroke-width="0.45"/><rect x="600.8" y="544.3" width="58.7" height="21.7"/><line x1="600.8" y1="555" x2="659.5" y2="555"/><path d="M603.0,546.0 L604.7,554.0 L606.4,546.0 L608.1,554.0 L609.8,546.0 L611.5,554.0 L613.2,546.0 L614.9,554.0 L616.6,546.0 L618.3,554.0 L620.0,546.0 L621.7,554.0 L623.4,546.0 L625.1,554.0 L626.8,546.0 L628.5,554.0 L630.2,546.0 L631.9,554.0 L633.6,546.0 L635.3,554.0 L637.0,546.0 L638.7,554.0 L640.4,546.0 L642.1,554.0 L643.8,546.0 L645.5,554.0 L647.2,546.0 L648.9,554.0 L650.6,546.0 L652.3,554.0 L654.0,546.0 L655.7,554.0 L657.4,546.0" stroke="#999" stroke-width="0.45"/><path d="M603.0,556.0 L604.7,564.5 L606.4,556.0 L608.1,564.5 L609.8,556.0 L611.5,564.5 L613.2,556.0 L614.9,564.5 L616.6,556.0 L618.3,564.5 L620.0,556.0 L621.7,564.5 L623.4,556.0 L625.1,564.5 L626.8,556.0 L628.5,564.5 L630.2,556.0 L631.9,564.5 L633.6,556.0 L635.3,564.5 L637.0,556.0 L638.7,564.5 L640.4,556.0 L642.1,564.5 L643.8,556.0 L645.5,564.5 L647.2,556.0 L648.9,564.5 L650.6,556.0 L652.3,564.5 L654.0,556.0 L655.7,564.5 L657.4,556.0" stroke="#999" stroke-width="0.45"/><line x1="661" y1="544" x2="661" y2="566" stroke="#777"/><rect x="521.2" y="626.2" width="23.1" height="48"/><g transform="translate(505.2,651) rotate(180)" stroke="#a6a6a6"><rect x="-12.2" y="-9" width="16.6" height="18" rx="2.2"/><path d="M-5.5,-9 V-11.2 H4.4 M-5.5,9 V11.2 H4.4"/><path d="M4.4,-11.2 C7.5,-11.2 9,-10 9.6,-8 C11,-3 11,3 9.6,8 C9,10 7.5,11.2 4.4,11.2"/><path d="M4.4,-9 C6.2,-4 6.2,4 4.4,9"/><path d="M-4.6,-3.6 V3.6 M1,-3.6 V3.6" stroke="#c0c0c0"/><circle cx="11.6" cy="0.6" r="1.15"/><circle cx="3.4" cy="-12" r="1.1"/><circle cx="2.4" cy="12" r="1.1"/></g><rect x="652.3" y="589.1" width="15.2" height="10.6"/><rect x="652.3" y="665.3" width="15.2" height="11.4"/><path d="M591.3,599.6 C589.8,619.7 589.8,646.5 591.8,666.6 L639.6,664.0 L640.6,652.6 L647.6,646.6 M591.3,599.6 L641.6,601.4 L642.6,613.6"/><rect x="641.6" y="601.6" width="25.899999999999977" height="62.0"/><path d="M651.6,607.1 l13.5,-0.8 l-0.8,22.0 l0.8,2 l-13.5,-0.6 l0.8,-12.5 Z"/><path d="M651.6,638.1 l13.5,-0.8 l-0.8,22.0 l0.8,2 l-13.5,-0.6 l0.8,-12.5 Z"/><path d="M650.6,601.6 V663.6" stroke="#aaa"/><rect x="550" y="676" width="22.9" height="49"/><g transform="translate(589.2,701) rotate(0)" stroke="#a6a6a6"><rect x="-12.2" y="-9" width="16.6" height="18" rx="2.2"/><path d="M-5.5,-9 V-11.2 H4.4 M-5.5,9 V11.2 H4.4"/><path d="M4.4,-11.2 C7.5,-11.2 9,-10 9.6,-8 C11,-3 11,3 9.6,8 C9,10 7.5,11.2 4.4,11.2"/><path d="M4.4,-9 C6.2,-4 6.2,4 4.4,9"/><path d="M-4.6,-3.6 V3.6 M1,-3.6 V3.6" stroke="#c0c0c0"/><circle cx="11.6" cy="0.6" r="1.15"/><circle cx="3.4" cy="-12" r="1.1"/><circle cx="2.4" cy="12" r="1.1"/></g>
<g stroke="#9a9a9a" stroke-width="0.45"><path d="M583.4,472.4 V504.7 M585.4,472.4 V504.7"/><rect x="585.4" y="497.9" width="47.4" height="6.5"/><path d="M587,500.1 H631 M587,502.3 H631 M625,499.3 h5 v3.8 h-5 z"/><line x1="594.2" y1="463.4" x2="594.2" y2="497.9"/><line x1="604.6" y1="463.4" x2="604.6" y2="497.9"/><line x1="613.9" y1="463.4" x2="613.9" y2="497.9"/><line x1="623.2" y1="463.4" x2="623.2" y2="497.9"/><line x1="585.4" y1="478" x2="633" y2="478"/><line x1="632.8" y1="501.2" x2="640" y2="463.4"/><line x1="632.8" y1="501.2" x2="655" y2="463.4"/><line x1="632.8" y1="501.2" x2="668.8" y2="463.4"/><line x1="632.8" y1="501.2" x2="668.8" y2="478"/><line x1="632.8" y1="501.2" x2="668.8" y2="492"/><line x1="632.8" y1="501.2" x2="668.8" y2="508"/><line x1="632.8" y1="501.2" x2="668.8" y2="524"/><line x1="632.8" y1="501.2" x2="668.8" y2="538.5"/><line x1="632.8" y1="501.2" x2="655" y2="538.5"/><line x1="632.8" y1="501.2" x2="643" y2="538.5"/><line x1="632" y1="504.4" x2="632" y2="538.5"/><line x1="622" y1="504.4" x2="618" y2="538.5"/><line x1="611" y1="504.4" x2="607" y2="538.5"/><line x1="600" y1="504.4" x2="596" y2="538.5"/><line x1="590" y1="504.4" x2="586" y2="538.5"/><path d="M585.4,538.5 L593,504.4"/><path d="M600,477.6 H632.8 A23.6,23.6 0 0 1 632.8,524.8 H590" stroke="#aaa"/></g>
<g stroke="#b5b5b5" stroke-dasharray="1,1"><rect x="528" y="466.3" width="51" height="32.7"/><rect x="529.5" y="467.8" width="48" height="29.7"/><path d="M530,498 L577,481 L553,472"/></g>
</g>
<g fill="none" stroke="#222" stroke-width="0.7"><rect x="424.5" y="508.7" width="10.3" height="10.4"/><circle cx="429.6" cy="513.9" r="2.7"/><path d="M429.6,509.6 v1.6 M429.6,516.6 v1.6 M425.4,513.9 h1.4 M432.4,513.9 h1.4"/></g><g fill="none" stroke="#555" stroke-width="0.5"><rect x="424.5" y="519.5" width="10.3" height="7"/><rect x="424.5" y="526.8" width="10.3" height="7"/><rect x="424.5" y="534" width="10.3" height="7"/><rect x="424.5" y="546.8" width="10.3" height="6.7"/><rect x="427" y="521" width="5" height="4"/><rect x="427" y="528.3" width="5" height="4"/><rect x="427" y="535.6" width="5" height="4"/><rect x="427" y="548.2" width="5" height="4"/><rect x="660.5" y="543.6" width="8.2" height="13.7"/><rect x="662" y="546" width="5.2" height="8"/></g>
<text x="484.6" y="532.6" font-size="7.5" fill="#222" text-anchor="middle">P</text>
<g fill="none" stroke="#333" stroke-width="0.6"><line x1="539" y1="427.5" x2="539" y2="459" stroke-width="1"/><path d="M542,459.3 H569" stroke-dasharray="1,1.4"/><path d="M539,427.5 A31.5,31.5 0 0 1 570.5,459" stroke-dasharray="2.4,2.4" stroke="#777"/><path d="M536.8,432 v-4.6 h4.6 v4.6 M538.3,432 v-3 h1.5 v3" stroke-width="0.7"/><line x1="501.4" y1="477.7" x2="533.4" y2="477.7" stroke-width="1"/><path d="M501.4,481 V507" stroke-dasharray="1,1.4"/><path d="M533.4,479 A32,32 0 0 1 502.5,509" stroke-dasharray="2.4,2.4" stroke="#777"/><path d="M529,475.5 h4.6 v4.6 h-4.6 M529,477 h3 v1.5 h-3" stroke-width="0.7"/><line x1="539.9" y1="543.6" x2="539.9" y2="574.8" stroke-width="1"/><path d="M511,543.6 H538" stroke-dasharray="1,1.4"/><path d="M508.4,548 A31.2,31.2 0 0 0 538,575" stroke-dasharray="2.4,2.4" stroke="#777"/><path d="M537.7,570.5 v4.6 h4.6 v-4.6 M539.2,570.5 v3 h1.5 v-3" stroke-width="0.7"/><line x1="553.9" y1="543.6" x2="553.9" y2="574.8" stroke-width="1"/><path d="M556,543.6 H583" stroke-dasharray="1,1.4"/><path d="M585.2,548 A31.2,31.2 0 0 1 556,575" stroke-dasharray="2.4,2.4" stroke="#777"/><path d="M551.7,570.5 v4.6 h4.6 v-4.6 M553.2,570.5 v3 h1.5 v-3" stroke-width="0.7"/><rect x="537.8" y="457.8" width="2.4" height="2.4" fill="#333"/><rect x="569" y="457.8" width="2.4" height="2.4" fill="#333"/><rect x="500.2" y="476.5" width="2.4" height="2.4" fill="#333"/><rect x="500.2" y="507" width="2.4" height="2.4" fill="#333"/><rect x="508" y="542.4" width="2.4" height="2.4" fill="#333"/><rect x="583.5" y="542.4" width="2.4" height="2.4" fill="#333"/><rect x="538.7" y="542.4" width="2.4" height="2.4" fill="#333"/><rect x="552.7" y="542.4" width="2.4" height="2.4" fill="#333"/></g>
<g stroke="#3a3a3a" stroke-width="0.6" fill="none"><line x1="458.5" y1="324.3" x2="458.5" y2="674.2"/><line x1="646.5" y1="324.3" x2="646.5" y2="725"/><line x1="424.1" y1="412.5" x2="677" y2="412.5"/><line x1="424.1" y1="473.5" x2="499.5" y2="473.5"/><line x1="424.1" y1="670.5" x2="549.3" y2="670.5"/><line x1="549.3" y1="670.5" x2="677" y2="670.5"/></g>
<line x1="421.5" y1="415.5" x2="426.7" y2="410.3" stroke="#111" stroke-width="1.1"/><line x1="498.8" y1="415.5" x2="504.0" y2="410.3" stroke="#111" stroke-width="1.1"/><line x1="666.4" y1="415.5" x2="671.6" y2="410.3" stroke="#111" stroke-width="1.1"/><line x1="674.2" y1="415.5" x2="679.4" y2="410.3" stroke="#111" stroke-width="1.1"/><line x1="421.5" y1="476.0" x2="426.7" y2="470.8" stroke="#111" stroke-width="1.1"/><line x1="421.5" y1="673.6" x2="426.7" y2="668.4" stroke="#111" stroke-width="1.1"/><line x1="666.4" y1="673.1" x2="671.6" y2="667.9" stroke="#111" stroke-width="1.1"/><line x1="674.2" y1="673.1" x2="679.4" y2="667.9" stroke="#111" stroke-width="1.1"/><line x1="666.4" y1="475.1" x2="671.6" y2="469.9" stroke="#111" stroke-width="1.1"/><line x1="674.2" y1="475.1" x2="679.4" y2="469.9" stroke="#111" stroke-width="1.1"/><line x1="541.0" y1="673.6" x2="546.6" y2="668.0" stroke="#111" stroke-width="0.9"/><line x1="543.4" y1="673.6" x2="549.0" y2="668.0" stroke="#111" stroke-width="0.9"/><line x1="493.7" y1="476.2" x2="499.3" y2="470.6" stroke="#111" stroke-width="0.9"/><line x1="496.1" y1="476.2" x2="501.7" y2="470.6" stroke="#111" stroke-width="0.9"/><line x1="455.0" y1="422.4" x2="460.6" y2="416.8" stroke="#111" stroke-width="0.9"/><line x1="457.4" y1="422.4" x2="463.0" y2="416.8" stroke="#111" stroke-width="0.9"/><line x1="455.0" y1="546.8" x2="460.6" y2="541.2" stroke="#111" stroke-width="0.9"/><line x1="457.4" y1="546.8" x2="463.0" y2="541.2" stroke="#111" stroke-width="0.9"/><line x1="642.6" y1="464.0" x2="648.2" y2="458.4" stroke="#111" stroke-width="0.9"/><line x1="645.0" y1="464.0" x2="650.6" y2="458.4" stroke="#111" stroke-width="0.9"/><line x1="642.6" y1="543.6" x2="648.2" y2="538.0" stroke="#111" stroke-width="0.9"/><line x1="645.0" y1="543.6" x2="650.6" y2="538.0" stroke="#111" stroke-width="0.9"/><line x1="456.4" y1="321.7" x2="461.6" y2="326.9" stroke="#111" stroke-width="1.1"/><line x1="644.0" y1="321.7" x2="649.2" y2="326.9" stroke="#111" stroke-width="1.1"/><line x1="456.4" y1="671.6" x2="461.6" y2="676.8" stroke="#111" stroke-width="1.1"/><line x1="644.0" y1="722.4" x2="649.2" y2="727.6" stroke="#111" stroke-width="1.1"/>
<text x="462.6" y="411.2" font-size="10.4" text-anchor="middle" fill="#111" textLength="21.2" lengthAdjust="spacingAndGlyphs">202,5</text><text x="585.3" y="411.2" font-size="10.4" text-anchor="middle" fill="#111" textLength="21.2" lengthAdjust="spacingAndGlyphs">438,5</text><text x="460.6" y="471.7" font-size="10.4" text-anchor="middle" fill="#111" textLength="21.2" lengthAdjust="spacingAndGlyphs">190,5</text><text x="585.3" y="470.9" font-size="10.4" text-anchor="middle" fill="#111" textLength="21.2" lengthAdjust="spacingAndGlyphs">438,5</text><text x="484.4" y="669.7" font-size="10.4" text-anchor="middle" fill="#111" textLength="14.1" lengthAdjust="spacingAndGlyphs">317</text><text x="609.2" y="669.2" font-size="10.4" text-anchor="middle" fill="#111" textLength="14.1" lengthAdjust="spacingAndGlyphs">314</text><text transform="translate(456.6,370.5) rotate(-90)" font-size="10.4" text-anchor="middle" fill="#111" textLength="21.2" lengthAdjust="spacingAndGlyphs">242,5</text><text transform="translate(644.2,391.6) rotate(-90)" font-size="10.4" text-anchor="middle" fill="#111" textLength="21.2" lengthAdjust="spacingAndGlyphs">352,5</text><text transform="translate(458.4,482.2) rotate(-90)" font-size="10.4" text-anchor="middle" fill="#111" textLength="14.1" lengthAdjust="spacingAndGlyphs">313</text><text transform="translate(645,500.8) rotate(-90)" font-size="10.4" text-anchor="middle" fill="#111" textLength="14.1" lengthAdjust="spacingAndGlyphs">198</text><text transform="translate(457.2,610.4) rotate(-90)" font-size="10.4" text-anchor="middle" fill="#111" textLength="21.2" lengthAdjust="spacingAndGlyphs">335,5</text><text transform="translate(644.4,634.3) rotate(-90)" font-size="10.4" text-anchor="middle" fill="#111" textLength="21.2" lengthAdjust="spacingAndGlyphs">474,5</text>
<g font-size="7" fill="#333" text-anchor="middle"><text x="616.7" y="476" textLength="24" lengthAdjust="spacingAndGlyphs">17 x 18,00</text><text x="617.2" y="485.3" textLength="12.8" lengthAdjust="spacingAndGlyphs">25,00</text></g>
<circle cx="542.4" cy="393.5" r="10.6" fill="#7b2323"/><text x="542.4" y="397.4" font-size="11" font-weight="bold" fill="#fff" text-anchor="middle" textLength="16.5" lengthAdjust="spacingAndGlyphs">1/5</text><circle cx="478.9" cy="498.8" r="10.6" fill="#7b2323"/><text x="478.9" y="502.7" font-size="11" font-weight="bold" fill="#fff" text-anchor="middle" textLength="16.5" lengthAdjust="spacingAndGlyphs">1/4</text><circle cx="542.4" cy="511.5" r="10.6" fill="#7b2323"/><text x="542.4" y="515.4" font-size="11" font-weight="bold" fill="#fff" text-anchor="middle" textLength="16.5" lengthAdjust="spacingAndGlyphs">1/1</text><circle cx="497.5" cy="620.6" r="10.6" fill="#7b2323"/><text x="497.5" y="624.5" font-size="11" font-weight="bold" fill="#fff" text-anchor="middle" textLength="16.5" lengthAdjust="spacingAndGlyphs">1/3</text><circle cx="579.6" cy="621.6" r="10.6" fill="#7b2323"/><text x="579.6" y="625.5" font-size="11" font-weight="bold" fill="#fff" text-anchor="middle" textLength="16.5" lengthAdjust="spacingAndGlyphs">1/2</text>
<text x="406.2" y="705.6" font-size="8.8" font-weight="bold" fill="#333" textLength="37.3" lengthAdjust="spacingAndGlyphs">Legenda</text><g fill="none" stroke="#999" stroke-width="0.5"><rect x="406.9" y="712.6" width="16.7" height="13.9"/><path d="M420.5,714 V725 M422,714 V725" stroke-dasharray="1,1" stroke="#555"/><rect x="406.9" y="733.2" width="24.2" height="8.7"/></g><g font-size="7.6" fill="#666"><text x="436.6" y="722.5" textLength="49" lengthAdjust="spacingAndGlyphs">pompa ciepła</text><text x="436.6" y="740" textLength="41.8" lengthAdjust="spacingAndGlyphs">klimatyzacja</text><text x="419.4" y="740.2" text-anchor="middle" font-size="6.8" fill="#888">K</text></g>

<!-- bottom -->
<g><circle cx="109.3" cy="790" r="12.1" fill="none" stroke="#999" stroke-width="0.6"/><line x1="99.2" y1="782.2" x2="119.2" y2="798.1" stroke="#333" stroke-width="0.5"/><line x1="117.2" y1="780.4" x2="101.6" y2="799.8" stroke="#333" stroke-width="0.5"/><polygon points="108,791.2 110,788.9 99,782" fill="#000"/><text transform="translate(95.4,778.9) rotate(-49.4)" font-size="9" font-weight="bold" fill="#111" text-anchor="middle" dominant-baseline="middle">N</text></g>
<text x="134" y="798" font-size="18.2" font-weight="bold" fill="#4d4d4d" textLength="115.3" lengthAdjust="spacingAndGlyphs">Schemat PZT</text>
<text x="470.4" y="798.3" font-size="18.2" font-weight="bold" fill="#4d4d4d" textLength="123.2" lengthAdjust="spacingAndGlyphs">Widok działki</text>
<g transform="translate(95,820) scale(0.29045)">
<polygon points="30,58 60,40 195,22 200,45 320,8 425,78 445,68 462,132 645,92 652,118 665,235 648,270 600,292 520,325 497,228 220,248 245,440 165,480 78,505" fill="#a3a3a3" stroke="#999" stroke-width="1.5"/>
<polygon points="30,58 60,40 195,22 200,45 320,8 425,78 445,68 462,132 645,92 652,118 665,235 648,270 600,292 520,325 497,228 220,248 245,440 165,480 78,505" fill="url(#tex)"/>
<g fill="none" stroke="#959595" stroke-width="46" stroke-linecap="butt"><path d="M120,120 L144,246 L155,429"/><path d="M165,178 L395,160" stroke-width="38"/></g>
<g fill="none" stroke="#b9b9b9" stroke-width="14" stroke-linejoin="round" stroke-linecap="butt"><path d="M117,55 L144,246 L155,429 L172,478"/><path d="M132,150 C160,168 250,160 262,150 C275,140 270,100 272,58"/><path d="M138,215 C140,190 150,185 180,183 L395,165 C420,165 440,160 470,152 L650,106"/><path d="M600,122 C574,128 566,150 574,185 L592,264" stroke-width="13"/></g>
<g transform="translate(57,62) rotate(-3)"><rect x="0" y="0" width="31" height="56" fill="#fff" stroke="#1a1a1a" stroke-width="3"/><line x1="0" y1="28.0" x2="31" y2="28.0" stroke="#222" stroke-width="1.6"/></g><g transform="translate(66,135) rotate(-3.5)"><rect x="0" y="0" width="32" height="155" fill="#fff" stroke="#1a1a1a" stroke-width="3"/><line x1="0" y1="31.0" x2="32" y2="31.0" stroke="#222" stroke-width="1.6"/><line x1="0" y1="62.0" x2="32" y2="62.0" stroke="#222" stroke-width="1.6"/><line x1="0" y1="93.0" x2="32" y2="93.0" stroke="#222" stroke-width="1.6"/><line x1="0" y1="124.0" x2="32" y2="124.0" stroke="#222" stroke-width="1.6"/></g><g transform="translate(84,304) rotate(-4.5)"><rect x="0" y="0" width="33" height="156" fill="#fff" stroke="#1a1a1a" stroke-width="3"/><line x1="0" y1="31.2" x2="33" y2="31.2" stroke="#222" stroke-width="1.6"/><line x1="0" y1="62.4" x2="33" y2="62.4" stroke="#222" stroke-width="1.6"/><line x1="0" y1="93.6" x2="33" y2="93.6" stroke="#222" stroke-width="1.6"/><line x1="0" y1="124.8" x2="33" y2="124.8" stroke="#222" stroke-width="1.6"/></g><g transform="translate(147,66) rotate(-3)"><rect x="0" y="0" width="33" height="84" fill="#fff" stroke="#1a1a1a" stroke-width="3"/><line x1="0" y1="28.0" x2="33" y2="28.0" stroke="#222" stroke-width="1.6"/><line x1="0" y1="56.0" x2="33" y2="56.0" stroke="#222" stroke-width="1.6"/></g><g transform="translate(214,86) rotate(-3)"><rect x="0" y="0" width="31" height="54" fill="#fff" stroke="#1a1a1a" stroke-width="3"/><line x1="0" y1="27.0" x2="31" y2="27.0" stroke="#222" stroke-width="1.6"/></g><g transform="translate(306,108) rotate(-5)"><rect x="0" y="0" width="88" height="28" fill="#fff" stroke="#1a1a1a" stroke-width="3"/><line x1="29.3" y1="0" x2="29.3" y2="28" stroke="#222" stroke-width="1.6"/><line x1="58.7" y1="0" x2="58.7" y2="28" stroke="#222" stroke-width="1.6"/></g><g transform="translate(160,208) rotate(-5)"><rect x="0" y="0" width="30" height="25" fill="#fff" stroke="#1a1a1a" stroke-width="3"/></g><g transform="translate(212,202) rotate(-5)"><rect x="0" y="0" width="56" height="24" fill="#fff" stroke="#1a1a1a" stroke-width="3"/><line x1="28.0" y1="0" x2="28.0" y2="24" stroke="#222" stroke-width="1.6"/></g><g transform="translate(289,195) rotate(-5)"><rect x="0" y="0" width="30" height="24" fill="#fff" stroke="#1a1a1a" stroke-width="3"/></g><g transform="translate(328,188) rotate(-5)"><rect x="0" y="0" width="57" height="25" fill="#fff" stroke="#1a1a1a" stroke-width="3"/><line x1="28.5" y1="0" x2="28.5" y2="25" stroke="#222" stroke-width="1.6"/></g><g transform="translate(168,270) rotate(-4.5)"><rect x="0" y="0" width="33" height="156" fill="#fff" stroke="#1a1a1a" stroke-width="3"/><line x1="0" y1="31.2" x2="33" y2="31.2" stroke="#222" stroke-width="1.6"/><line x1="0" y1="62.4" x2="33" y2="62.4" stroke="#222" stroke-width="1.6"/><line x1="0" y1="93.6" x2="33" y2="93.6" stroke="#222" stroke-width="1.6"/><line x1="0" y1="124.8" x2="33" y2="124.8" stroke="#222" stroke-width="1.6"/></g><g transform="translate(498,186) rotate(-14)"><rect x="0" y="0" width="40" height="62" fill="#fff" stroke="#1a1a1a" stroke-width="3"/><line x1="0" y1="31.0" x2="40" y2="31.0" stroke="#222" stroke-width="1.6"/></g><g transform="translate(588,160) rotate(-12)"><rect x="0" y="0" width="36" height="78" fill="#fff" stroke="#1a1a1a" stroke-width="3"/><line x1="0" y1="26.0" x2="36" y2="26.0" stroke="#222" stroke-width="1.6"/><line x1="0" y1="52.0" x2="36" y2="52.0" stroke="#222" stroke-width="1.6"/></g><rect x="426" y="128" width="28" height="22" fill="#555" transform="rotate(-8 440 139)"/><rect x="118" y="48" width="12" height="12" fill="#222"/><rect x="275" y="55" width="12" height="10" fill="#222"/><rect x="140" y="452" width="12" height="12" fill="#222"/><rect x="436" y="176" width="24" height="9" fill="#222" transform="rotate(-8 448 180)"/><rect x="588" y="262" width="16" height="16" fill="#666"/><rect x="590" y="138" width="22" height="14" fill="#6a6a6a" transform="rotate(-12 601 145)"/><polygon points="500,262 578,240 598,295 520,325" fill="#b9605e" stroke="#7b2323" stroke-width="3"/><rect x="524" y="258" width="30" height="14" fill="#cf8a86" transform="rotate(-14 539 265)"/></g>
<defs><pattern id="tex" width="7" height="7" patternUnits="userSpaceOnUse"><rect x="1" y="2" width="2" height="2" fill="#949494"/><rect x="4" y="5" width="2" height="2" fill="#adadad"/></pattern><pattern id="dots" width="4.7" height="4.7" patternUnits="userSpaceOnUse" patternTransform="rotate(-14)"><rect x="1" y="1" width="1.2" height="1.2" fill="#2a2a2a"/></pattern><pattern id="dotsr" width="4.7" height="4.7" patternUnits="userSpaceOnUse" patternTransform="rotate(-14)"><rect x="1" y="1" width="1.2" height="1.2" fill="#7a2a2c"/></pattern><pattern id="hatch" width="2.4" height="2.4" patternUnits="userSpaceOnUse" patternTransform="rotate(-16)"><line x1="0.5" y1="0" x2="0.5" y2="2.4" stroke="#aaa" stroke-width="0.5"/></pattern><pattern id="hatch2" width="1.6" height="1.6" patternUnits="userSpaceOnUse" patternTransform="rotate(-14)"><line x1="0" y1="0" x2="1.6" y2="0" stroke="#bbb" stroke-width="0.5"/></pattern><clipPath id="boxclip"><rect x="403.8" y="809.2" width="257.4" height="163.4"/></clipPath></defs>
<g clip-path="url(#boxclip)">
<polygon points="403.7,809.5 660.7,809.5 660.7,878.4 629.6,897.1 591.0,912.0 480.4,958.6 457.8,870.2 441.1,817.4 403.7,821.9" fill="url(#dots)"/>
<polygon points="457.8,870.2 479.7,864.7 558.7,843.7 573.6,901.6 586.7,898.2 591.0,910.9 480.4,958.5" fill="#c98888"/><polygon points="457.8,870.2 479.7,864.7 558.7,843.7 573.6,901.6 586.7,898.2 591.0,910.9 480.4,958.5" fill="url(#dotsr)"/>
<polygon points="550.4,809.5 574.8,809.5 591.0,871.0 568.6,875.9" fill="#fff"/><polygon points="550.4,809.5 574.8,809.5 591.0,871.0 568.6,875.9" fill="url(#hatch)" stroke="#aaa" stroke-width="0.4"/>
<polygon points="522.0,827.9 552.4,819.4 559.3,842.3 529.4,851.1" fill="#dcdcdc" stroke="#999" stroke-width="0.4"/><polygon points="569.3,876.1 589.8,872.3 597.5,893.7 576.1,899.7" fill="#dcdcdc" stroke="#999" stroke-width="0.4"/><polygon points="579.3,826.2 592.2,822.9 600.9,852.3 589.7,856.0" fill="#dcdcdc" stroke="#999" stroke-width="0.4"/><polygon points="531.9,847.3 559.3,842.3 567.3,872.2 539.4,875.9" fill="#b9706d" stroke="#a55" stroke-width="0.3"/><path d="M533.9,854.8 L562.4,851.1 M535.7,862.3 L564.4,858.5 M537.4,869.2 L566.1,865.5" stroke="#9c5553" stroke-width="0.4"/><path d="M569.3,876.1 L597.5,893.7 M589.8,872.3 L576.1,899.7" stroke="#999" stroke-width="0.4" fill="none"/><path d="M581.0,829.9 L598.5,849.8 M592.2,826.9 L588.5,853.5" stroke="#999" stroke-width="0.4" fill="none"/><path d="M529.4,834.9 L559.3,842.3 M555.6,828.6 L533.2,849.3" stroke="#999" stroke-width="0.4" fill="none"/>
<polygon points="465.2,809.5 515.0,809.5 517.0,821.2 519.0,828.6 527.5,836.1 530.7,850.3 479.7,864.7" fill="#fff"/><path d="M470.9,831.9 L517.0,821.2" stroke="#111" stroke-width="2"/><path d="M466.0,809.5 L470.9,831.9 L475.2,852.3 M514.0,809.5 L517.0,821.2 L519.0,836.1 L527.5,836.1 M479.2,861.0 L480.2,865.2" stroke="#111" stroke-width="1.9" fill="none" stroke-dasharray="7,1.2"/><path d="M466.7,815.0 L474.7,851.1" stroke="#888" stroke-width="1.6" stroke-dasharray="1,1" fill="none"/><text transform="translate(487.1,823.7) rotate(-104)" font-size="6.3" fill="#111" text-anchor="middle">20</text><polygon points="480.2,865.5 507.0,858.8 510.0,871.2 529.4,866.2 535.7,884.2 489.6,895.9" fill="#fff"/><path d="M480.9,868.5 L489.1,895.9 L535.7,884.2 L530.7,867.2 L533.9,866.5" stroke="#111" stroke-width="2" fill="none" stroke-dasharray="6,1.2"/><text transform="translate(503.3,885.9) rotate(-104)" font-size="6.3" fill="#111" text-anchor="middle">19</text><polygon points="502.1,843.6 525.7,837.9 529.0,851.8 505.8,857.8" fill="#fff" stroke="#777" stroke-width="0.45"/><path d="M502.1,843.6 L529.0,851.8 M525.7,837.9 L505.8,857.8" stroke="#999" stroke-width="0.4" fill="none"/><polygon points="506.5,858.5 529.4,852.8 533.2,866.0 510.8,871.7" fill="#fff" stroke="#777" stroke-width="0.45"/><path d="M506.5,858.5 L533.2,866.0 M529.4,852.8 L510.8,871.7" stroke="#999" stroke-width="0.4" fill="none"/><polygon points="589.7,809.5 627.1,809.5 634.6,842.3 600.9,851.1" fill="#fff" stroke="#111" stroke-width="1.8"/><path d="M625.8,826.2 L630.8,825.4 L632.1,829.9" stroke="#111" stroke-width="1.6" fill="none"/><text transform="translate(617.1,839.9) rotate(-104)" font-size="6.3" fill="#111" text-anchor="middle">21</text><polygon points="457.8,870.2 479.7,864.7 558.7,843.7 573.6,901.6 586.7,898.2 591.0,910.9 480.4,958.5" fill="none" stroke="#fff" stroke-width="1.9"/><polygon points="457.8,870.2 479.7,864.7 558.7,843.7 573.6,901.6 586.7,898.2 591.0,910.9 480.4,958.5" fill="none" stroke="#5e1517" stroke-width="1.9" stroke-dasharray="3.4,1.5"/><path d="M403.7,821.9 L441.1,817.4 L457.8,870.2" fill="none" stroke="#b5303f" stroke-width="1.2" stroke-dasharray="4.5,2.5"/><path d="M591.0,912.0 Q639.5,895.9 660.7,878.4" fill="none" stroke="#b5303f" stroke-width="1.1" stroke-dasharray="4.5,2.5"/></g>
<rect x="403.8" y="809.2" width="257.4" height="163.4" fill="none" stroke="#222" stroke-width="0.7"/>
<rect x="0" y="983" width="723" height="40" fill="#7b2323"/>
<g font-size="6.1" fill="#f3e9e9"><text x="29.2" y="992.8" textLength="665.0" lengthAdjust="spacingAndGlyphs">Karta katalogowa ma charakter informacyjny i nie stanowi oferty zgodnie z zasadami Kodeksu Cywilnego. Wymiary podane są na podstawie Projektu Budowlanego i mogą nieznacznie się różnić od stanu faktycznego. Powierzchnia pomieszczeń obliczona została na podstawie</text><text x="20.6" y="1000.5" textLength="684.0" lengthAdjust="spacingAndGlyphs">Rozporządzenia Ministra Rozwoju z dnia 11 września 2020 r. w sprawie szczegółowego zakresu i formy projektu budowlanego (Dz. U. z 2020 roku nr 1609 ze zmianami, § 20 punkt 4 podpunt b.). Przedstawione dane mają charakter orientacyjny i mogą różnić się od stanu po realizacji.</text><text x="24.5" y="1008.3" textLength="674.8" lengthAdjust="spacingAndGlyphs">Dokładnych pomiarów pod zabudowę mebli, sprzętu oraz wyposażenia należy dokonać bezpośrednio na miejscu, po zakończeniu prac. Elementy wystroju wnętrza, takie jak drzwi wewnętrzne, meble, armatura sanitarna, sprzęt AGD i RTV, nie stanowią oferty handlowej. Powierzchnie</text><text x="123.5" y="1016" textLength="498.0" lengthAdjust="spacingAndGlyphs">ogródków nie podlegają obmiarowi. Na terenie ogródków przydomowych mogą znajdować się instalacje wspólne, w tym m. in. studzienki kanalizacyjne. Wymiary na rzutach w świetle ściany, bez uwzględnienia tynku.</text></g>
<text x="8.6" y="1014.2" font-size="28" font-weight="bold" fill="#fff" textLength="103.6" lengthAdjust="spacing">otodom</text>
<rect x="0" y="0" width="0.55" height="1023" fill="#9c9c9c"/>

</svg>
</body></html>
